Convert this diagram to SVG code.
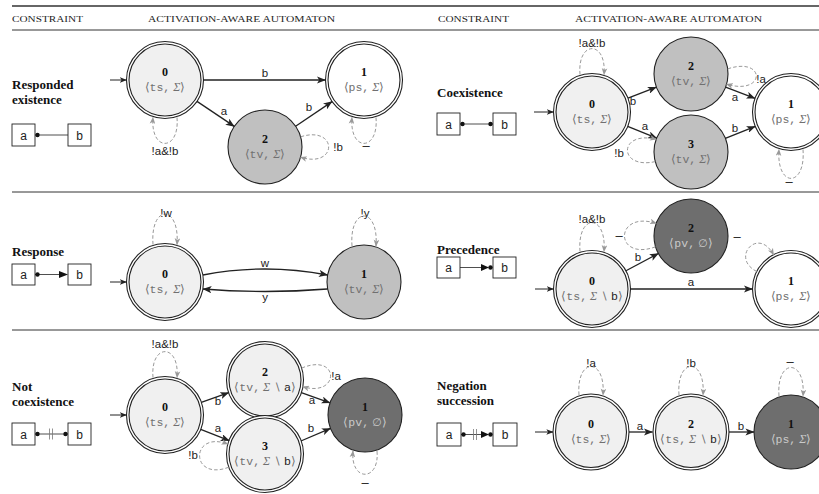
<svg xmlns="http://www.w3.org/2000/svg" width="819" height="494" viewBox="0 0 819 494">
<style>
.hdr{font-family:"Liberation Serif",serif;font-size:9px;fill:#222}
.ttl{font-family:"Liberation Serif",serif;font-size:13px;font-weight:bold;fill:#111}
.box{fill:#fff;stroke:#222;stroke-width:0.9}
.bl{font-family:"Liberation Sans",sans-serif;font-size:12px;fill:#222;text-anchor:middle}
.il{stroke:#222;stroke-width:0.8;fill:none}
.bar{stroke:#777;stroke-width:0.8}
.rule{stroke:#333;stroke-width:1}
.nc{stroke:#222;stroke-width:1.1}
.out{fill:#fff}
.lt{fill:#f0f0f0}
.md{fill:#c0c0c0}
.dk{fill:#6e6e6e}
.num{font-family:"Liberation Serif",serif;font-weight:bold;font-size:12px;text-anchor:middle;fill:#111}
.st{font-family:"Liberation Serif",serif;font-size:12px;text-anchor:middle;fill:#707070}
.stl{fill:#cacaca}
.m{font-family:"Liberation Mono",monospace;font-size:11.5px}
.br{font-family:"DejaVu Sans",sans-serif;font-size:11px}
.sg{font-style:italic}
.sm{font-family:"DejaVu Sans",sans-serif;font-size:11px}
.sa{font-family:"Liberation Sans",sans-serif;fill:#222;font-size:11.5px}
.edge{stroke:#222;stroke-width:1.3;fill:none;marker-end:url(#arr)}
.init{stroke:#222;stroke-width:1;fill:none;marker-end:url(#arrs)}
.loop{stroke:#999;stroke-width:1;fill:none;stroke-dasharray:3.5 2.2;marker-end:url(#arrg)}
.el{font-family:"Liberation Sans",sans-serif;font-size:11.5px;fill:#222;text-anchor:middle}
.dash{font-size:13px}
</style>
<defs>
<marker id="arr" viewBox="0 0 10 8" refX="9.5" refY="4" markerWidth="9" markerHeight="7.2" orient="auto" markerUnits="userSpaceOnUse"><path d="M0,0 L10,4 L0,8 L2.5,4 z" fill="#222"/></marker>
<marker id="arrs" viewBox="0 0 10 8" refX="9.5" refY="4" markerWidth="7" markerHeight="5.6" orient="auto" markerUnits="userSpaceOnUse"><path d="M0,0 L10,4 L0,8 L2.5,4 z" fill="#222"/></marker>
<marker id="arrg" viewBox="0 0 10 8" refX="9" refY="4" markerWidth="7" markerHeight="6" orient="auto" markerUnits="userSpaceOnUse"><path d="M0,0 L10,4 L0,8 L2.5,4 z" fill="#999"/></marker>
</defs>
<rect width="819" height="494" fill="#fff"/>

<g id="table">
<line class="rule" x1="12" y1="6" x2="819" y2="6" style="stroke-width:1.5"/>
<line class="rule" x1="12" y1="30" x2="819" y2="30"/>
<line class="rule" x1="12" y1="192" x2="819" y2="192"/>
<line class="rule" x1="12" y1="330" x2="819" y2="330"/>
<text class="hdr" x="12" y="22" textLength="71" lengthAdjust="spacingAndGlyphs">CONSTRAINT</text>
<text class="hdr" x="148" y="22" textLength="187" lengthAdjust="spacingAndGlyphs">ACTIVATION-AWARE AUTOMATON</text>
<text class="hdr" x="438" y="22" textLength="71" lengthAdjust="spacingAndGlyphs">CONSTRAINT</text>
<text class="hdr" x="575" y="22" textLength="187" lengthAdjust="spacingAndGlyphs">ACTIVATION-AWARE AUTOMATON</text>
</g>

<!-- Constraint titles and icons -->
<g id="c-responded">
<text class="ttl" x="12" y="89">Responded</text>
<text class="ttl" x="12" y="104">existence</text>
<rect class="box" x="12" y="124" width="23" height="22"/><text class="bl" x="23.5" y="139.5">a</text>
<rect class="box" x="68" y="124" width="23" height="22"/><text class="bl" x="79.5" y="139.5">b</text>
<line class="il" x1="35" y1="135" x2="68" y2="135"/><circle cx="37.5" cy="135" r="2.2" fill="#111"/>
</g>
<g id="c-coexistence">
<text class="ttl" x="437" y="97">Coexistence</text>
<rect class="box" x="437" y="113" width="23" height="22"/><text class="bl" x="448.5" y="128.5">a</text>
<rect class="box" x="493" y="113" width="23" height="22"/><text class="bl" x="504.5" y="128.5">b</text>
<line class="il" x1="460" y1="124" x2="493" y2="124"/><circle cx="462.5" cy="124" r="2.2" fill="#111"/><circle cx="490.5" cy="124" r="2.2" fill="#111"/>
</g>
<g id="c-response">
<text class="ttl" x="12" y="256">Response</text>
<rect class="box" x="12" y="264" width="23" height="21"/><text class="bl" x="23.5" y="279">a</text>
<rect class="box" x="68" y="264" width="23" height="21"/><text class="bl" x="79.5" y="279">b</text>
<line class="il" x1="35" y1="274.5" x2="62" y2="274.5"/><circle cx="37.5" cy="274.5" r="2.2" fill="#111"/>
<polygon points="59,271 68,274.5 59,278" fill="#111"/>
</g>
<g id="c-precedence">
<text class="ttl" x="437" y="254">Precedence</text>
<rect class="box" x="437" y="257" width="23" height="21"/><text class="bl" x="448.5" y="272">a</text>
<rect class="box" x="493" y="257" width="23" height="21"/><text class="bl" x="504.5" y="272">b</text>
<line class="il" x1="460" y1="267.5" x2="483" y2="267.5"/>
<polygon points="481,264 489,267.5 481,271" fill="#111"/><circle cx="490.5" cy="267.5" r="2.2" fill="#111"/>
</g>
<g id="c-notcoexistence">
<text class="ttl" x="12" y="391">Not</text>
<text class="ttl" x="12" y="406">coexistence</text>
<rect class="box" x="12" y="423" width="23" height="22"/><text class="bl" x="23.5" y="438.5">a</text>
<rect class="box" x="68" y="423" width="23" height="22"/><text class="bl" x="79.5" y="438.5">b</text>
<line class="il" x1="35" y1="434" x2="68" y2="434"/><circle cx="37.5" cy="434" r="2.2" fill="#111"/><circle cx="65.5" cy="434" r="2.2" fill="#111"/>
<line class="bar" x1="49.5" y1="428.5" x2="49.5" y2="439.5"/><line class="bar" x1="52.5" y1="428.5" x2="52.5" y2="439.5"/>
</g>
<g id="c-negationsuccession">
<text class="ttl" x="437" y="390">Negation</text>
<text class="ttl" x="437" y="405">succession</text>
<rect class="box" x="437" y="423" width="24" height="23"/><text class="bl" x="449" y="439">a</text>
<rect class="box" x="493" y="423" width="24" height="23"/><text class="bl" x="505" y="439">b</text>
<line class="il" x1="461" y1="434.5" x2="483" y2="434.5"/><circle cx="463.5" cy="434.5" r="2.2" fill="#111"/>
<line class="bar" x1="473.5" y1="429" x2="473.5" y2="440"/><line class="bar" x1="476.5" y1="429" x2="476.5" y2="440"/>
<polygon points="481,431 489,434.5 481,438" fill="#111"/><circle cx="490.5" cy="434.5" r="2.2" fill="#111"/>
</g>

<!-- Nodes -->
<g id="r1l-n0"><circle class="nc out" cx="165" cy="80" r="38.5"/><circle class="nc lt" cx="165" cy="80" r="36"/>
<text class="num" x="165" y="75.5">0</text><text class="st" x="165" y="91">⟨<tspan class="m">ts,</tspan> <tspan class="sg">Σ</tspan>⟩</text></g>
<g id="r1l-n1"><circle class="nc out" cx="364" cy="80" r="38.5"/><circle class="nc out" cx="364" cy="80" r="36"/>
<text class="num" x="364" y="75.5">1</text><text class="st" x="364" y="91">⟨<tspan class="m">ps,</tspan> <tspan class="sg">Σ</tspan>⟩</text></g>
<g id="r1l-n2"><circle class="nc md" cx="265" cy="147" r="37"/>
<text class="num" x="265" y="142.5">2</text><text class="st" x="265" y="158">⟨<tspan class="m">tv,</tspan> <tspan class="sg">Σ</tspan>⟩</text></g>

<g id="r1r-n0"><circle class="nc out" cx="592" cy="112" r="38.5"/><circle class="nc lt" cx="592" cy="112" r="36"/>
<text class="num" x="592" y="107.5">0</text><text class="st" x="592" y="123">⟨<tspan class="m">ts,</tspan> <tspan class="sg">Σ</tspan>⟩</text></g>
<g id="r1r-n2"><circle class="nc md" cx="691" cy="74" r="37"/>
<text class="num" x="691" y="69.5">2</text><text class="st" x="691" y="85">⟨<tspan class="m">tv,</tspan> <tspan class="sg">Σ</tspan>⟩</text></g>
<g id="r1r-n3"><circle class="nc md" cx="691" cy="152" r="37"/>
<text class="num" x="691" y="147.5">3</text><text class="st" x="691" y="163">⟨<tspan class="m">tv,</tspan> <tspan class="sg">Σ</tspan>⟩</text></g>
<g id="r1r-n1"><circle class="nc out" cx="791" cy="112" r="38.5"/><circle class="nc out" cx="791" cy="112" r="36"/>
<text class="num" x="791" y="107.5">1</text><text class="st" x="791" y="123">⟨<tspan class="m">ps,</tspan> <tspan class="sg">Σ</tspan>⟩</text></g>

<g id="r2l-n0"><circle class="nc out" cx="165" cy="282" r="38.5"/><circle class="nc lt" cx="165" cy="282" r="36"/>
<text class="num" x="165" y="277.5">0</text><text class="st" x="165" y="293">⟨<tspan class="m">ts,</tspan> <tspan class="sg">Σ</tspan>⟩</text></g>
<g id="r2l-n1"><circle class="nc md" cx="364" cy="282" r="37"/>
<text class="num" x="364" y="277.5">1</text><text class="st" x="364" y="293">⟨<tspan class="m">tv,</tspan> <tspan class="sg">Σ</tspan>⟩</text></g>

<g id="r2r-n0"><circle class="nc out" cx="592" cy="289" r="38.5"/><circle class="nc lt" cx="592" cy="289" r="36"/>
<text class="num" x="592" y="284.5">0</text><text class="st" x="592" y="300">⟨<tspan class="m">ts,</tspan> <tspan class="sg">Σ</tspan><tspan class="sm"> ∖ </tspan><tspan class="sa">b</tspan>⟩</text></g>
<g id="r2r-n2"><circle class="nc dk" cx="691" cy="236" r="37"/>
<text class="num" x="691" y="231.5">2</text><text class="st stl" x="691" y="247">⟨<tspan class="m">pv,</tspan> <tspan class="sm">∅</tspan>⟩</text></g>
<g id="r2r-n1"><circle class="nc out" cx="791" cy="289" r="38.5"/><circle class="nc out" cx="791" cy="289" r="36"/>
<text class="num" x="791" y="284.5">1</text><text class="st" x="791" y="300">⟨<tspan class="m">ps,</tspan> <tspan class="sg">Σ</tspan>⟩</text></g>

<g id="r3l-n0"><circle class="nc out" cx="165" cy="415" r="38.5"/><circle class="nc lt" cx="165" cy="415" r="36"/>
<text class="num" x="165" y="410.5">0</text><text class="st" x="165" y="426">⟨<tspan class="m">ts,</tspan> <tspan class="sg">Σ</tspan>⟩</text></g>
<g id="r3l-n2"><circle class="nc out" cx="265" cy="380" r="38.5"/><circle class="nc lt" cx="265" cy="380" r="36"/>
<text class="num" x="265" y="375.5">2</text><text class="st" x="265" y="391">⟨<tspan class="m">tv,</tspan> <tspan class="sg">Σ</tspan><tspan class="sm"> ∖ </tspan><tspan class="sa">a</tspan>⟩</text></g>
<g id="r3l-n3"><circle class="nc out" cx="265" cy="454" r="38.5"/><circle class="nc lt" cx="265" cy="454" r="36"/>
<text class="num" x="265" y="449.5">3</text><text class="st" x="265" y="465">⟨<tspan class="m">tv,</tspan> <tspan class="sg">Σ</tspan><tspan class="sm"> ∖ </tspan><tspan class="sa">b</tspan>⟩</text></g>
<g id="r3l-n1"><circle class="nc dk" cx="365" cy="415" r="37"/>
<text class="num" x="365" y="410.5">1</text><text class="st stl" x="365" y="426">⟨<tspan class="m">pv,</tspan> <tspan class="sm">∅</tspan>⟩</text></g>

<g id="r3r-n0"><circle class="nc out" cx="591" cy="432" r="38"/><circle class="nc lt" cx="591" cy="432" r="35.5"/>
<text class="num" x="591" y="427.5">0</text><text class="st" x="591" y="443">⟨<tspan class="m">ts,</tspan> <tspan class="sg">Σ</tspan>⟩</text></g>
<g id="r3r-n2"><circle class="nc out" cx="691" cy="432" r="38"/><circle class="nc lt" cx="691" cy="432" r="35.5"/>
<text class="num" x="691" y="427.5">2</text><text class="st" x="691" y="443">⟨<tspan class="m">ts,</tspan> <tspan class="sg">Σ</tspan><tspan class="sm"> ∖ </tspan><tspan class="sa">b</tspan>⟩</text></g>
<g id="r3r-n1"><circle class="nc dk" cx="791" cy="432" r="37"/>
<text class="num" x="791" y="427.5">1</text><text class="st stl" x="791" y="443">⟨<tspan class="m">ps,</tspan> <tspan class="sg">Σ</tspan>⟩</text></g>

<!-- Connectors -->
<g id="connectors">
<!-- row 1 left -->
<path class="init" d="M110,80 L126.5,80"/>
<path class="edge" d="M204,80 L325.5,80"/><text class="el" x="265" y="77">b</text>
<path class="edge" d="M197,101.4 L234.3,126.4"/><text class="el" x="224" y="115">a</text>
<path class="edge" d="M295.6,126.2 L332.1,101.6"/><text class="el" x="309" y="111">b</text>
<path class="loop" d="M177,117.5 C180,152 150,152 153,117.5"/><text class="el" x="165" y="155">!a&amp;!b</text>
<path class="loop" d="M300.6,136.8 C338,125 338,169 300.6,157.2"/><text class="el" x="338" y="151">!b</text>
<path class="loop" d="M376,117.5 C379,152 349,152 352,117.5"/><text class="el dash" x="366" y="150">–</text>
<!-- row 1 right -->
<path class="init" d="M534,112 L553.5,112"/>
<path class="edge" d="M628,98.2 L656.4,87.2"/><text class="el" x="633" y="105">b</text>
<path class="edge" d="M627.7,126.4 L656.7,138.1"/><text class="el" x="645" y="130">a</text>
<path class="edge" d="M725.6,87.1 L755,98.3"/><text class="el" x="735" y="101">a</text>
<path class="edge" d="M725.3,138.3 L755.3,126.3"/><text class="el" x="735" y="132">b</text>
<path class="loop" d="M580,74.5 C577,40 607,40 604,74.5"/><text class="el" x="592" y="47">!a&amp;!b</text>
<path class="loop" d="M727.6,68.9 C766,56 766,96 726.6,84.2"/><text class="el" x="761" y="83">!a</text>
<path class="loop" d="M655.3,161.6 C618,170 618,130 656.2,139.3"/><text class="el" x="619" y="157">!b</text>
<path class="loop" d="M803,149.5 C806,188 776,188 779,149.5"/><text class="el dash" x="789" y="186">–</text>
<!-- row 2 left -->
<path class="init" d="M110,282 L126.5,282"/>
<path class="edge" d="M202.9,275 Q265,263 327.5,275"/><text class="el" x="265" y="266.5">w</text>
<path class="edge" d="M327.5,289 Q265,294 203,289"/><text class="el" x="265" y="301">y</text>
<path class="loop" d="M153,244.5 C150,204 180,204 177,244.5"/><text class="el" x="166" y="217">!w</text>
<path class="loop" d="M352,246 C349,206 379,206 376,246"/><text class="el" x="365" y="217">!y</text>
<!-- row 2 right -->
<path class="init" d="M535,289 L553.5,289"/>
<path class="edge" d="M626,270.8 L658.4,253.5"/><text class="el" x="638" y="261">b</text>
<path class="edge" d="M630.5,289 L752.5,289"/><text class="el" x="691" y="286">a</text>
<path class="loop" d="M580,251.5 C577,213 607,213 604,251.5"/><text class="el" x="592" y="223">!a&amp;!b</text>
<path class="loop" d="M655.6,246.8 C614,262 614,210 656.2,223.3"/><text class="el dash" x="619" y="240">–</text>
<path class="loop" d="M756.7,271.5 C730,258 758,226 773.5,254.7"/><text class="el dash" x="737" y="241">–</text>
<!-- row 3 left -->
<path class="init" d="M110,415 L126.5,415"/>
<path class="edge" d="M201.3,402.3 L228.7,392.7"/><text class="el" x="218" y="405">b</text>
<path class="edge" d="M200.7,429.3 L229.3,440.7"/><text class="el" x="218" y="432">a</text>
<path class="edge" d="M301.3,392.7 L330,402.8"/><text class="el" x="312" y="404">a</text>
<path class="edge" d="M300.9,441 L330.5,428.4"/><text class="el" x="311" y="432">b</text>
<path class="loop" d="M153,377.5 C150,343 180,343 177,377.5"/><text class="el" x="165" y="348">!a&amp;!b</text>
<path class="loop" d="M301.6,368.1 C340,352 340,398 302.9,386.7"/><text class="el" x="336" y="380">!a</text>
<path class="loop" d="M228.8,467.2 C190,482 190,430 227.8,444"/><text class="el" x="193" y="459">!b</text>
<path class="loop" d="M377,451 C380,482 350,482 353,451"/><text class="el dash" x="365" y="487">–</text>
<!-- row 3 right -->
<path class="init" d="M535,432 L553,432"/>
<path class="edge" d="M629,432 L652.5,432"/><text class="el" x="640" y="430">a</text>
<path class="edge" d="M729,432 L754,432"/><text class="el" x="741" y="430">b</text>
<path class="loop" d="M579,395 C576,357 606,357 603,395"/><text class="el" x="591" y="367">!a</text>
<path class="loop" d="M679,395 C676,357 706,357 703,395"/><text class="el" x="691" y="367">!b</text>
<path class="loop" d="M779,396 C776,358 806,358 803,396"/><text class="el dash" x="790" y="366">–</text>
</g>
</svg>
